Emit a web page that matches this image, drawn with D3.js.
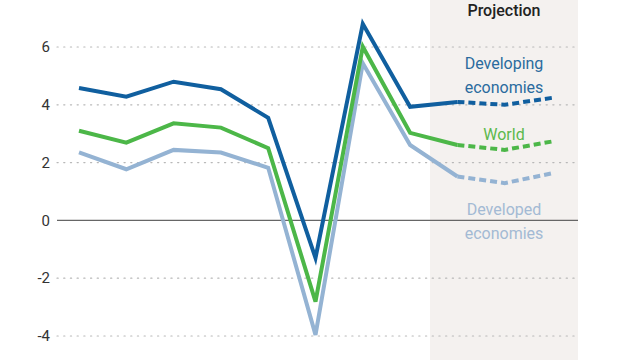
<!DOCTYPE html>
<html><head><meta charset="utf-8">
<script src="https://cdn.jsdelivr.net/npm/d3@7"></script>
<style>body{margin:0;background:#fff;}svg{display:block;font-family:Roboto,"Noto Sans",sans-serif;}</style>
</head><body>
<svg id="c" width="640" height="360"></svg>
<script>
const years = [2015,2016,2017,2018,2019,2020,2021,2022,2023,2024,2025];
const developing = [4.58,4.28,4.80,4.54,3.55,-1.30,6.80,3.93,4.10,4.00,4.24];
const world = [3.10,2.69,3.36,3.21,2.50,-2.81,6.01,3.03,2.61,2.44,2.73];
const developed = [2.35,1.77,2.44,2.35,1.82,-3.96,5.44,2.61,1.52,1.29,1.63];
const yTicks = [-4,-2,0,2,4,6];
const projectionStart = 2023;

const svg = d3.select("#c");
const x = d3.scaleLinear().domain([2015,2025]).range([79,552]);
const y = d3.scaleLinear().domain([-4,6]).range([336,47]);
const left = 57, right = 578;

// projection band
svg.append("rect").attr("x",430).attr("y",0).attr("width",right-430).attr("height",360).attr("fill","#f4f1ef");

// grid
yTicks.filter(t=>t!==0).forEach(t=>{
  svg.append("line").attr("x1",left).attr("x2",right).attr("y1",y(t)).attr("y2",y(t))
    .attr("stroke","#b8b8b8").attr("stroke-width",1.2).attr("stroke-dasharray","1.2,5.5").attr("stroke-linecap","round");
});
svg.append("line").attr("x1",left).attr("x2",right).attr("y1",y(0)).attr("y2",y(0))
  .attr("stroke","#666").attr("stroke-width",1.2);

// tick labels
yTicks.forEach(t=>{
  svg.append("text").attr("x",50).attr("y",y(t)).attr("dy","0.35em").attr("text-anchor","end")
    .attr("font-size",15).attr("fill","#333").text(t);
});

const series = [
  {vals:developed, color:"#94b3d3"},
  {vals:world, color:"#4cb748"},
  {vals:developing, color:"#105f9f"}
];
const line = d3.line().x(d=>x(d[0])).y(d=>y(d[1]));
series.forEach(s=>{
  const pts = years.map((yr,i)=>[yr,s.vals[i]]);
  const solid = pts.filter(p=>p[0]<=projectionStart);
  const dashed = pts.filter(p=>p[0]>=projectionStart);
  svg.append("path").attr("d",line(solid)).attr("fill","none").attr("stroke",s.color)
    .attr("stroke-width",4).attr("stroke-linejoin","miter");
  svg.append("path").attr("d",line(dashed)).attr("fill","none").attr("stroke",s.color)
    .attr("stroke-width",4).attr("stroke-dasharray","7,4");
});

// labels
const cx = 504;
function lbl(t,yy,c,w){svg.append("text").attr("x",cx).attr("y",yy).attr("text-anchor","middle")
  .attr("font-size",16).attr("font-weight",w||400).attr("fill",c).text(t);}
lbl("Projection",16,"#222",500);
lbl("Developing",69,"#2a6b9e");
lbl("economies",93,"#2a6b9e");
lbl("World",140,"#5cb94c");
lbl("Developed",215,"#a3bad4");
lbl("economies",239,"#a3bad4");
</script>
</body></html>
